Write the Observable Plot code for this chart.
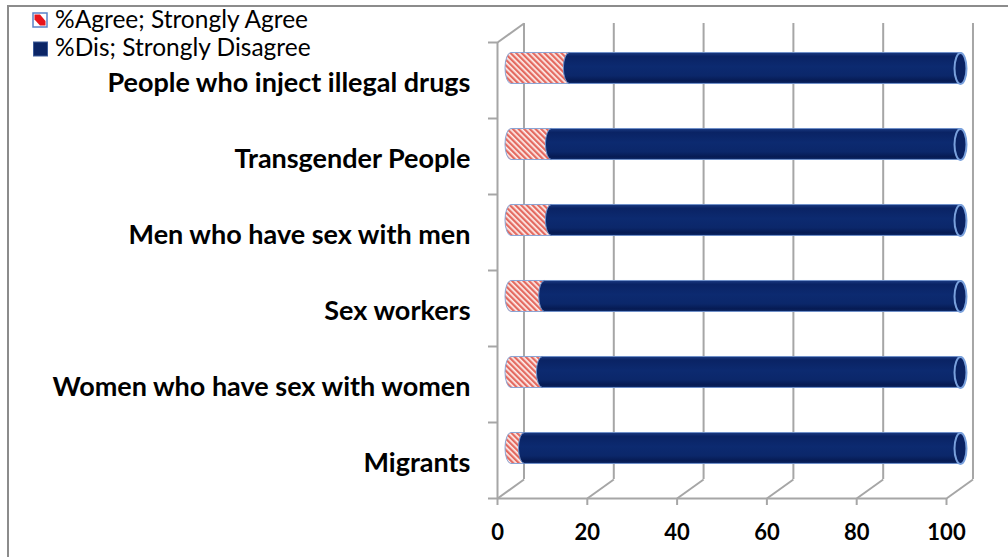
<!DOCTYPE html>
<html><head><meta charset="utf-8">
<script src="https://cdn.jsdelivr.net/npm/d3@7"></script>
<script src="https://cdn.jsdelivr.net/npm/@observablehq/plot@0.6"></script>
<style>
html,body{margin:0;padding:0;background:#fff;}
#wrap{position:relative;width:1008px;height:557px;overflow:hidden;font-family:Lato,"Open Sans",sans-serif;}
#frame{position:absolute;left:7px;top:5px;right:-10px;bottom:-10px;border-left:2px solid #8c8c8c;border-top:2px solid #8c8c8c;}
#chart{position:absolute;left:0;top:0;}
#legend{position:absolute;left:0;top:0;}
</style></head>
<body>
<div id="wrap"><div id="frame"></div><div id="chart"></div><svg id="legend" width="340" height="64"></svg></div>
<script>
// ---- data ----
const categories = ["People who inject illegal drugs", "Transgender People", "Men who have sex with men", "Sex workers", "Women who have sex with women", "Migrants"];
const agree = [13, 9, 9, 7.5, 7, 3];
const disagree = [87, 91, 91, 92.5, 93, 97];
const xTicks = [0, 20, 40, 60, 80, 100];
const seriesNames = ["%Agree; Strongly Agree", "%Dis; Strongly Disagree"];

// ---- layout constants ----
const depthX = 5.9, depthY = 0.25;   // oblique 3D depth in data units
const barHalf = 0.204;                // half bar thickness in y units
const nCat = categories.length;
const rows = categories.map((c, i) => ({category: c, pos: nCat - i - 0.5, agree: agree[i], disagree: disagree[i]}));
const posToName = new Map(rows.map(r => [r.pos, r.category]));
const bounds = d3.range(nCat + 1);
const gray = "#a6a6a6";

const ellipseSymbol = {draw(ctx) {
  const rx = 6, ry = 15.5, k = 0.5523;
  ctx.moveTo(rx, 0);
  ctx.bezierCurveTo(rx, ry * k, rx * k, ry, 0, ry);
  ctx.bezierCurveTo(-rx * k, ry, -rx, ry * k, -rx, 0);
  ctx.bezierCurveTo(-rx, -ry * k, -rx * k, -ry, 0, -ry);
  ctx.bezierCurveTo(rx * k, -ry, rx, -ry * k, rx, 0);
  ctx.closePath();
}};

const chart = Plot.plot({
  width: 1008, height: 557,
  marginLeft: 497, marginRight: 62, marginTop: 42, marginBottom: 59,
  style: {background: "transparent", fontFamily: "Lato, 'Open Sans', sans-serif", overflow: "visible"},
  x: {domain: [0, 100]},
  y: {domain: [0, nCat]},
  marks: [
    // back wall grid lines
    Plot.ruleX(xTicks, {x: d => d + depthX, y1: depthY, y2: nCat + depthY, stroke: gray, strokeWidth: 2}),
    // floor diagonals
    Plot.link(xTicks, {x1: d => d, y1: 0, x2: d => d + depthX, y2: depthY, stroke: gray, strokeWidth: 2}),
    // top-left wall diagonal
    Plot.link([0], {x1: 0, y1: nCat, x2: depthX, y2: nCat + depthY, stroke: gray, strokeWidth: 2}),
    // front left vertical and baseline
    Plot.ruleX([0], {y1: 0, y2: nCat, stroke: gray, strokeWidth: 2}),
    Plot.ruleY([0], {x1: 0, x2: 100, stroke: gray, strokeWidth: 2}),
    // category boundary ticks
    Plot.axisY({ticks: bounds, tickFormat: () => "", tickSize: 9, stroke: gray, strokeWidth: 2, label: null}),
    // category labels
    Plot.axisY({ticks: rows.map(r => r.pos), tickFormat: p => posToName.get(p), tickSize: 0, tickPadding: 27,
      fontSize: 27, fontWeight: "bold", fill: "#000", dy: 3, label: null}),
    // x axis
    Plot.axisX({ticks: xTicks, tickSize: 7, tickPadding: 19, stroke: gray, strokeWidth: 2, fill: "#000",
      fontSize: 22, fontWeight: "bold", label: null}),
    // agree segment (striped cylinder)
    Plot.rect(rows, {x1: 0, x2: "agree", y1: d => d.pos - barHalf, y2: d => d.pos + barHalf,
      dx: 14, dy: -12, insetLeft: -6, insetRight: -6, rx: 6, ry: 15.5,
      fill: "url(#stripes)", stroke: "#8aa4d4", strokeWidth: 1}),
    // disagree segment (navy cylinder)
    Plot.rect(rows, {x1: "agree", x2: d => d.agree + d.disagree, y1: d => d.pos - barHalf, y2: d => d.pos + barHalf,
      dx: 14, dy: -12, insetLeft: -6, insetRight: -6, rx: 6, ry: 15.5,
      fill: "url(#navy)", stroke: "#6f8fc8", strokeWidth: 1}),
    // right end face
    Plot.dot(rows, {x: d => d.agree + d.disagree, y: "pos", dx: 14, dy: -12, symbol: ellipseSymbol,
      fill: "#0a2262", stroke: "#79a0dc", strokeWidth: 2})
  ]
});

const defs = d3.select(chart).insert("defs", ":first-child");
const pat = defs.append("pattern").attr("id", "stripes").attr("patternUnits", "userSpaceOnUse")
  .attr("width", 4).attr("height", 4).attr("patternTransform", "rotate(-45)");
pat.append("rect").attr("width", 4).attr("height", 4).attr("fill", "#fdf0ee");
pat.append("rect").attr("width", 2.3).attr("height", 4).attr("fill", "#e46a60");
const grad = defs.append("linearGradient").attr("id", "navy").attr("x1", 0).attr("y1", 0).attr("x2", 0).attr("y2", 1);
[[0, "#1a3a82"], [0.12, "#0a2364"], [0.45, "#0c2a70"], [0.75, "#0b276a"], [0.92, "#061a52"], [1, "#0f2d6e"]]
  .forEach(([o, c]) => grad.append("stop").attr("offset", o).attr("stop-color", c));

document.getElementById("chart").appendChild(chart);

// legend
const lg = d3.select("#legend");
lg.append("rect").attr("x", 33).attr("y", 13).attr("width", 14).attr("height", 14).attr("fill", "#fff").attr("stroke", "#5b82c8").attr("stroke-width", 1.5);
lg.append("polygon").attr("points", "34.5,14.5 40,14.5 45.5,21 45.5,25.5 40,25.5 34.5,19.5").attr("fill", "#e8141c");
lg.append("rect").attr("x", 33.5).attr("y", 42).attr("width", 14).attr("height", 14).attr("fill", "#0b2566").attr("stroke", "#3d5c9a").attr("stroke-width", 1);
seriesNames.forEach((s, i) => {
  lg.append("text").attr("x", 55).attr("y", 28 + i * 28).attr("font-size", 24.5)
    .attr("font-family", "Lato, 'Open Sans', sans-serif").attr("fill", "#000").text(s);
});
</script>
</body></html>
